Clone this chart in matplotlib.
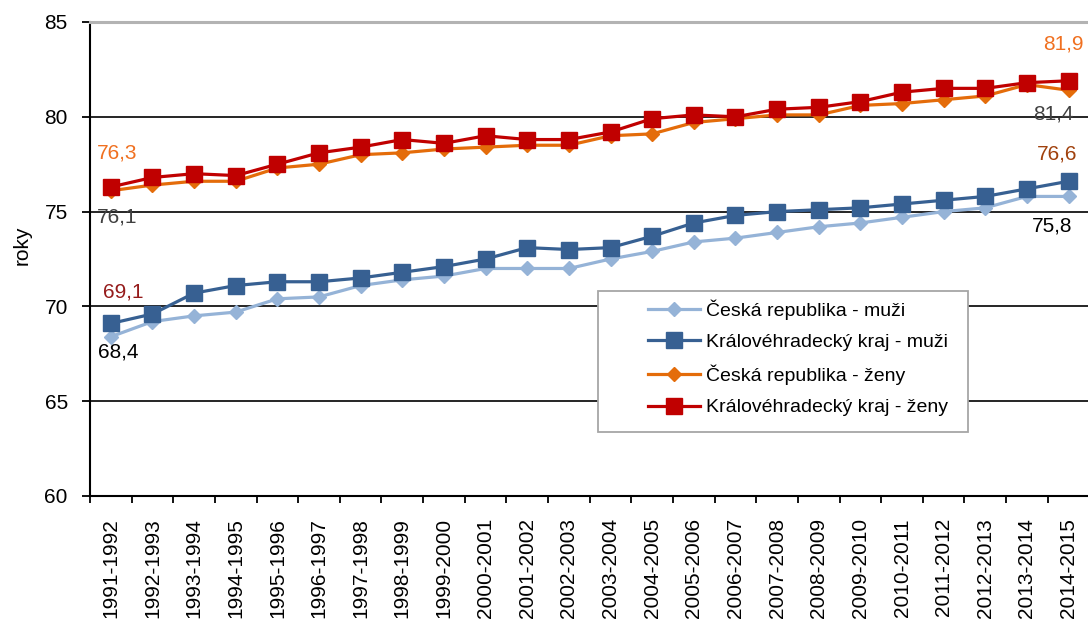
import matplotlib
matplotlib.use("Agg")
import matplotlib.pyplot as plt
from matplotlib.patches import Rectangle
import numpy as np

plt.rcParams['font.family'] = ['Liberation Sans', 'DejaVu Sans']

periods = [f"{y}-{y + 1}" for y in range(1991, 2015)]

cr_muzi = [68.4, 69.2, 69.5, 69.7, 70.4, 70.5, 71.1, 71.4, 71.6, 72.0, 72.0, 72.0,
           72.5, 72.9, 73.4, 73.6, 73.9, 74.2, 74.4, 74.7, 75.0, 75.2, 75.8, 75.8]
khk_muzi = [69.1, 69.6, 70.7, 71.1, 71.3, 71.3, 71.5, 71.8, 72.1, 72.5, 73.1, 73.0,
            73.1, 73.7, 74.4, 74.8, 75.0, 75.1, 75.2, 75.4, 75.6, 75.8, 76.2, 76.6]
cr_zeny = [76.1, 76.4, 76.6, 76.6, 77.3, 77.5, 78.0, 78.1, 78.3, 78.4, 78.5, 78.5,
           79.0, 79.1, 79.7, 79.9, 80.1, 80.1, 80.6, 80.7, 80.9, 81.1, 81.7, 81.4]
khk_zeny = [76.3, 76.8, 77.0, 76.9, 77.5, 78.1, 78.4, 78.8, 78.6, 79.0, 78.8, 78.8,
            79.2, 79.9, 80.1, 80.0, 80.4, 80.5, 80.8, 81.3, 81.5, 81.5, 81.8, 81.9]

series = [
    ("Česká republika - muži", cr_muzi, "#95B3D7", "D", 7.5),
    ("Královéhradecký kraj - muži", khk_muzi, "#376092", "s", 11),
    ("Česká republika - ženy", cr_zeny, "#E46C0A", "D", 7.5),
    ("Královéhradecký kraj - ženy", khk_zeny, "#C00000", "s", 11),
]

fig = plt.figure(figsize=(10.88, 6.19), dpi=100)
ax = fig.add_axes([90 / 1088, 1 - 496 / 619, 999.4 / 1088, 474 / 619])

x = np.arange(len(periods))
for name, vals, col, mk, ms in series:
    ax.plot(x, vals, color=col, lw=2.3, marker=mk, markersize=ms,
            markerfacecolor=col, markeredgecolor=col, label=name, zorder=3)

# value labels at the ends: (series, point, offset px, colour)
labels = [
    (3, 0, (6, 34), "#F07020"),
    (2, 0, (6, -26), "#404040"),
    (1, 0, (12, 31), "#951B1B"),
    (0, 0, (7, -15), "black"),
    (3, -1, (-5, 37), "#F07020"),
    (2, -1, (-15, -24), "#404040"),
    (1, -1, (-11, 27), "#A0410D"),
    (0, -1, (-16, -30), "black"),
]
for si, pi, (dx, dy), col in labels:
    v = series[si][1][pi]
    ax.annotate(f"{v:.1f}".replace(".", ","), xy=(x[pi], v),
                xytext=(dx * 0.72, dy * 0.72), textcoords="offset points",
                ha="center", va="center", fontsize=15, color=col,
                annotation_clip=False, zorder=4)

ax.set_xlim(-0.5, len(periods) - 0.5)
ax.set_ylim(60, 85)
ax.set_yticks([60, 65, 70, 75, 80, 85])
ax.tick_params(axis="y", labelsize=15, length=6, width=1.3, pad=10)
ax.set_xticks(x)
ax.set_xticklabels(periods, rotation=90, fontsize=15, va="top", ha="center")
ax.set_xticks(np.arange(-0.5, len(periods)), minor=True)
ax.tick_params(axis="x", which="major", length=0, pad=16)
ax.tick_params(axis="x", which="minor", length=5, width=1.3)

ax.grid(axis="y", color="black", lw=1.2)
ax.yaxis.get_gridlines()[-1].set_visible(False)
ax.set_axisbelow(True)

for s in ["left", "bottom"]:
    ax.spines[s].set_linewidth(1.5)
ax.spines["right"].set_visible(False)
ax.spines["top"].set_color("#B3B3B3")
ax.spines["top"].set_linewidth(2.2)

ax.set_ylabel("roky", fontsize=15)
ax.yaxis.set_label_coords(-0.058, 0.53)

leg = ax.legend(loc="upper left", bbox_to_anchor=(0.558, 0.415), frameon=False,
                fontsize=14, handlelength=2.7, handletextpad=0.3,
                labelspacing=0.7, borderpad=0, borderaxespad=0)
ax.add_patch(Rectangle(((598 - 90) / 999.4, (496 - 432) / 474),
                       370 / 999.4, 141 / 474, transform=ax.transAxes,
                       fill=True, facecolor="white", edgecolor="#A6A6A6",
                       lw=1.3, zorder=4.5))
leg.set_zorder(5)

fig.savefig("out.png", dpi=100)
